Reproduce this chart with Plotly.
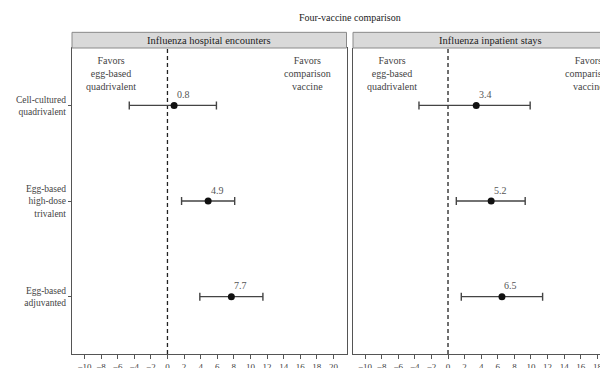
import plotly.graph_objects as go

# ---- data ----
vaccines = ["Cell-cultured<br>quadrivalent", "Egg-based<br>high-dose<br>trivalent", "Egg-based<br>adjuvanted"]
panel_titles = ["Influenza hospital encounters", "Influenza inpatient stays"]
enc_est = [0.8, 4.9, 7.7]
enc_lo = [-4.6, 1.7, 3.9]
enc_hi = [5.9, 8.1, 11.5]
inp_est = [3.4, 5.2, 6.5]
inp_lo = [-3.5, 1.0, 1.6]
inp_hi = [9.9, 9.3, 11.4]
x_ticks = list(range(-10, 22, 2))
chart_title = "Four-vaccine comparison"
left_note = "Favors<br>egg-based<br>quadrivalent"
right_note = "Favors<br>comparison<br>vaccine"

FONT = "Liberation Serif"
OFF = 8  # page body margin
W, H = 600, 360
ML, MT = 72 - OFF, 47.7 - OFF
MR = 0
MB = H - (354.5 - OFF)
PW = W - ML - MR
PH = H - MT - MB

def px2x(p):
    # page pixel -> paper x
    return (p - OFF - ML) / PW

def py2y(p):
    # page pixel -> paper y
    return 1 - (p - OFF - MT) / PH

d1 = [0, px2x(346.5)]
d2 = [px2x(353), 1.0]
strip_centers = [(d1[0] + d1[1]) / 2, (d2[0] + px2x(627.5)) / 2]

fig = go.Figure()

panels = [
    (enc_est, enc_lo, enc_hi, "x", "y"),
    (inp_est, inp_lo, inp_hi, "x2", "y2"),
]
for est, lo, hi, xa, ya in panels:
    fig.add_trace(go.Scatter(
        x=est, y=vaccines, mode="markers", xaxis=xa, yaxis=ya,
        marker=dict(color="#111111", size=7),
        error_x=dict(type="data", symmetric=False,
                     array=[h - e for h, e in zip(hi, est)],
                     arrayminus=[e - l for e, l in zip(est, lo)],
                     color="#444444", thickness=1.4, width=4),
        showlegend=False, cliponaxis=False,
    ))
    for e, v in zip(est, vaccines):
        fig.add_annotation(x=e, y=v, xref=xa, yref=ya, text=f"{e:.1f}",
                           showarrow=False, xshift=9, yshift=11,
                           font=dict(family=FONT, size=10, color="#555555"))
    ydom = ya + " domain"
    fig.add_shape(type="line", xref=xa, yref=ydom, x0=0, x1=0, y0=0, y1=1,
                  line=dict(color="#222222", width=1.3, dash="4px,3px"), layer="below")
    fig.add_annotation(x=-6.8, y=0.985, xref=xa, yref=ydom, yanchor="top", xanchor="center",
                       text=left_note, showarrow=False,
                       font=dict(family=FONT, size=10, color="#444444"))
    fig.add_annotation(x=16.9, y=0.985, xref=xa, yref=ydom, yanchor="top", xanchor="center",
                       text=right_note, showarrow=False,
                       font=dict(family=FONT, size=10, color="#444444"))

# strips
strip_top = py2y(32)
for dom, cx, title in zip([d1, d2], strip_centers, panel_titles):
    fig.add_shape(type="rect", xref="paper", yref="paper",
                  x0=dom[0], x1=dom[1], y0=1, y1=strip_top,
                  fillcolor="#d9d9d9", line=dict(color="#8a8a8a", width=1))
    fig.add_annotation(xref="paper", yref="paper", x=cx, xanchor="center",
                       y=(1 + strip_top) / 2, yanchor="middle", text=title, showarrow=False,
                       font=dict(family=FONT, size=10.5, color="#222222"))

fig.add_annotation(xref="paper", yref="paper", x=px2x(350), xanchor="center",
                   y=py2y(17), yanchor="middle",
                   text=chart_title, showarrow=False,
                   font=dict(family=FONT, size=10, color="#222222"))

tick_text = [("\u2212" + str(-t)) if t < 0 else str(t) for t in x_ticks]
xcommon = dict(tickvals=x_ticks, ticktext=tick_text, ticks="outside", ticklen=4,
               tickcolor="#555555", showgrid=False, zeroline=False, automargin=False,
               showline=True, linecolor="#555555", linewidth=1.2,
               tickfont=dict(family=FONT, size=9, color="#444444"))
ycommon = dict(type="category", categoryarray=vaccines, range=[2.6, -0.6],
               showgrid=False, zeroline=False, showline=True, automargin=False,
               linecolor="#555555", linewidth=1.2)

fig.update_layout(
    template="none",
    width=W, height=H,
    margin=dict(l=ML, r=MR, t=MT, b=MB, pad=0, autoexpand=False),
    paper_bgcolor="white", plot_bgcolor="white",
    xaxis=dict(domain=d1, range=[-11.5, 21.57], mirror=True, **xcommon),
    xaxis2=dict(domain=d2, range=[-11.45, 19.28], **xcommon),
    yaxis=dict(anchor="x", ticks="outside", ticklen=3, tickcolor="#555555", mirror=True,
               tickfont=dict(family=FONT, size=9.5, color="#444444"), **ycommon),
    yaxis2=dict(anchor="x2", showticklabels=False, **ycommon),
)

fig.write_html("out.html")
